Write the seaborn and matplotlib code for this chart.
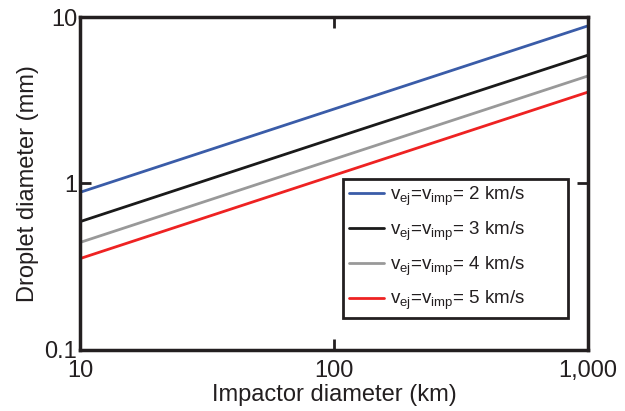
import matplotlib
matplotlib.use("Agg")
import matplotlib.pyplot as plt
import seaborn as sns
import pandas as pd
from matplotlib.ticker import FixedLocator, FixedFormatter, NullLocator

sns.set_theme(style="white")
plt.rcParams["font.family"] = ["Liberation Sans", "DejaVu Sans"]
plt.rcParams["mathtext.fontset"] = "custom"
plt.rcParams["mathtext.rm"] = "Liberation Sans"
plt.rcParams["mathtext.it"] = "Liberation Sans"

# Impactor diameter (km)
impactor_km = [10, 100, 1000]
# Droplet diameter (mm) for each ejection/impact velocity
d_2kms = [0.885, 2.80, 8.85]
d_3kms = [0.590, 1.87, 5.90]
d_4kms = [0.4425, 1.40, 4.425]
d_5kms = [0.354, 1.12, 3.54]

velocities = ["2", "3", "4", "5"]
series = [d_2kms, d_3kms, d_4kms, d_5kms]
colors = ["#3a5ca8", "#1a1a1a", "#999999", "#ee2222"]

xticks = [10, 100, 1000]
xticklabels = ["10", "100", "1,000"]
yticks = [0.1, 1, 10]
yticklabels = ["0.1", "1", "10"]

rows = []
for v, vals in zip(velocities, series):
    label = r"$\mathregular{v_{ej}}$=$\mathregular{v_{imp}}$= " + v + " km/s"
    for x, y in zip(impactor_km, vals):
        rows.append({"impactor": x, "droplet": y, "label": label})
df = pd.DataFrame(rows)

fig = plt.figure(figsize=(6.25, 4.11), dpi=100)
ax = fig.add_axes([80 / 625, 1 - 350 / 411, 508 / 625, 333 / 411])

sns.lineplot(data=df, x="impactor", y="droplet", hue="label",
             palette=colors, linewidth=2, ax=ax, legend=True)

ax.set_xscale("log")
ax.set_yscale("log")
ax.set_xlim(10, 1000)
ax.set_ylim(0.1, 10)

ax.xaxis.set_major_locator(FixedLocator(xticks))
ax.xaxis.set_major_formatter(FixedFormatter(xticklabels))
ax.xaxis.set_minor_locator(NullLocator())
ax.yaxis.set_major_locator(FixedLocator(yticks))
ax.yaxis.set_major_formatter(FixedFormatter(yticklabels))
ax.yaxis.set_minor_locator(NullLocator())

ax.tick_params(which="major", direction="in", length=8, width=2, color="#231f20",
               labelsize=17, labelcolor="#231f20",
               top=True, right=True, bottom=True, left=True, pad=2)
ax.tick_params(axis="x", pad=7)
for s in ax.spines.values():
    s.set_linewidth(2.5)
    s.set_color("#231f20")

ax.set_xlabel("Impactor diameter (km)", fontsize=17, labelpad=2, color="#231f20")
ax.set_ylabel("Droplet diameter (mm)", fontsize=17, labelpad=4, color="#231f20")

leg = ax.legend(loc="lower left",
                bbox_to_anchor=(343 / 625, 1 - 318 / 411, 225 / 625, 139 / 411),
                bbox_transform=fig.transFigure, mode="expand",
                fontsize=13.5, frameon=True,
                fancybox=False, framealpha=1, edgecolor="#231f20",
                handlelength=1.9, handletextpad=0.3, labelspacing=0.62,
                borderpad=0.3, borderaxespad=0)
leg.get_frame().set_linewidth(2)
for t in leg.get_texts():
    t.set_color("#231f20")

fig.savefig("out.png", dpi=100)
